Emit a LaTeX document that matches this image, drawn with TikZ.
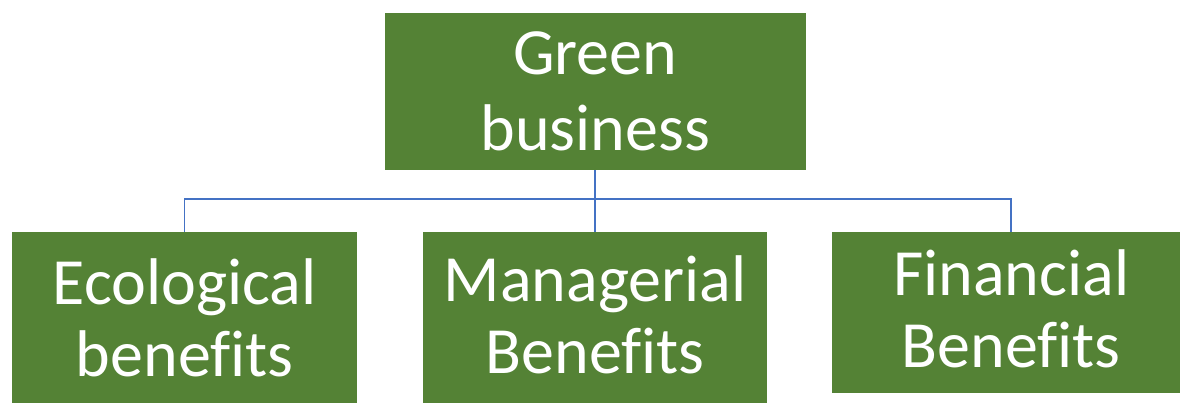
\documentclass[tikz,border=0pt]{standalone}
\usepackage{fontspec}
\setmainfont[Ligatures=NoCommon]{Carlito}
\definecolor{boxgreen}{HTML}{548235}
\definecolor{linkblue}{HTML}{4472C4}
\tikzset{
  gbox/.style={fill=boxgreen, draw=none, text=white, align=center, inner sep=0pt, anchor=north west},
  toptext/.style={font=\fontsize{66}{76}\selectfont},
  subtext/.style={font=\fontsize{66}{72}\selectfont},
  conn/.style={draw=linkblue, line width=1.5pt}
}
\begin{document}
\begin{tikzpicture}[x=1pt,y=-1pt]
  \clip (0,0) rectangle (1180,403);
  \fill[white] (0,0) rectangle (1180,403);
  \node[gbox, toptext, minimum width=421pt, minimum height=157pt, text depth=2pt] (top) at (384.5,13) {Green\\business};
  \node[gbox, subtext, minimum width=345pt, minimum height=171pt] (eco) at (12,232) {Ecological\\benefits};
  \node[gbox, subtext, minimum width=344pt, minimum height=171pt, text depth=7pt] (mgr) at (423,232) {Managerial\\Benefits};
  \node[gbox, subtext, minimum width=358pt, minimum height=161pt, text depth=8pt] (fin) at (832,232) {Financial\\Benefits};
  \coordinate (bus) at (0,199);
  \draw[conn] (top.south) -- (mgr.north);
  \draw[conn] (eco.north) -- (eco.north |- bus) -| (fin.north);
\end{tikzpicture}
\end{document}
